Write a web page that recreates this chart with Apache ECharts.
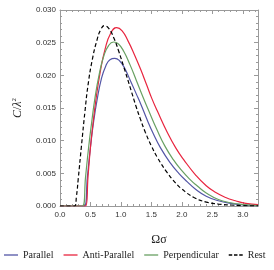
<!DOCTYPE html>
<html>
<head>
<meta charset="utf-8">
<script src="https://cdn.jsdelivr.net/npm/echarts@6/dist/echarts.min.js"></script>
<style>html,body{margin:0;padding:0;background:#fff}#c{width:274px;height:270px}</style>
</head>
<body>
<div id="c"></div>
<script>
const seriesNames = ['Parallel', 'Anti-Parallel', 'Perpendicular', 'Rest'];
const xTickLabels = ['0.0', '0.5', '1.0', '1.5', '2.0', '2.5', '3.0'];
const yTickLabels = ['0.000', '0.005', '0.010', '0.015', '0.020', '0.025', '0.030'];

const parallel = [[0,0],[0.40,0],[0.45,0.0045],[0.50,0.0090],[0.55,0.0128],[0.61,0.0163],[0.68,0.0195],[0.75,0.0214],[0.82,0.0224],[0.90,0.0226],[0.98,0.0222],[1.06,0.0211],[1.15,0.0193],[1.25,0.0172],[1.33,0.0155],[1.43,0.0132],[1.53,0.0111],[1.65,0.0089],[1.81,0.0066],[1.95,0.0050],[2.09,0.0037],[2.22,0.0026],[2.40,0.0015],[2.60,0.0008],[2.80,0.0004],[3.00,0.00018],[3.25,0.00006]];
const antiParallel = [[0,0],[0.42,0],[0.46,0.0045],[0.50,0.0090],[0.55,0.0133],[0.59,0.0163],[0.66,0.0205],[0.74,0.0240],[0.83,0.0264],[0.93,0.0273],[1.02,0.0268],[1.12,0.0252],[1.22,0.0232],[1.32,0.0210],[1.42,0.0186],[1.51,0.0164],[1.60,0.0145],[1.76,0.0113],[1.90,0.0089],[2.03,0.0071],[2.23,0.0047],[2.40,0.0031],[2.55,0.0021],[2.72,0.0013],[2.88,0.0008],[3.05,0.0004],[3.25,0.0002]];
const perpendicular = [[0,0],[0.37,0],[0.42,0.0045],[0.47,0.0090],[0.52,0.0128],[0.57,0.0163],[0.64,0.0200],[0.72,0.0230],[0.80,0.0246],[0.88,0.0251],[0.96,0.0248],[1.05,0.0236],[1.15,0.0216],[1.25,0.0193],[1.37,0.0165],[1.46,0.0145],[1.59,0.0117],[1.72,0.0092],[1.86,0.0071],[2.00,0.0054],[2.14,0.0040],[2.25,0.0031],[2.40,0.0020],[2.60,0.0010],[2.80,0.0005],[3.00,0.00022],[3.25,0.00008]];
const rest = [[0,0],[0.24,0],[0.27,0.0015],[0.30,0.0042],[0.35,0.0090],[0.41,0.0145],[0.46,0.0185],[0.53,0.0224],[0.61,0.0255],[0.67,0.0270],[0.73,0.0276],[0.80,0.0272],[0.88,0.0258],[0.96,0.0238],[1.05,0.0212],[1.15,0.0182],[1.25,0.0152],[1.32,0.0133],[1.40,0.0113],[1.50,0.0092],[1.60,0.0074],[1.76,0.0051],[1.90,0.0035],[2.00,0.0026],[2.20,0.0013],[2.40,0.0006],[2.60,0.0003],[2.80,0.00015],[3.00,0.00006],[3.25,0.00002]];

const colors = ['#5356a6', '#e8253f', '#68a062', '#000000'];
const frameColor = '#9a9a9a';

const chart = echarts.init(document.getElementById('c'), null, {renderer: 'canvas'});

function xAxisCfg(pos, labels) {
  return {
    type: 'value', position: pos, min: 0, max: 3.25, interval: 0.5,
    axisLine: {show: true, onZero: false, lineStyle: {color: frameColor, width: 1}},
    axisTick: {show: true, inside: true, length: 4, lineStyle: {color: frameColor}},
    minorTick: {show: true, splitNumber: 5, length: 2, lineStyle: {color: frameColor}},
    splitLine: {show: false},
    axisLabel: labels ? {show: true, showMaxLabel: false, margin: 5, color: '#333', fontSize: 8, fontFamily: 'Liberation Sans',
      formatter: v => { const i = Math.round(v / 0.5); return Math.abs(v - i * 0.5) < 1e-9 ? (xTickLabels[i] || '') : ''; }} : {show: false},
    name: labels ? 'Ωσ' : '', nameLocation: 'middle', nameGap: 28,
    nameTextStyle: {fontFamily: 'Liberation Serif', fontSize: 12, color: '#222'}
  };
}
function yAxisCfg(pos, labels) {
  return {
    type: 'value', position: pos, min: 0, max: 0.03, interval: 0.005,
    axisLine: {show: true, onZero: false, lineStyle: {color: frameColor, width: 1}},
    axisTick: {show: true, inside: true, length: 4, lineStyle: {color: frameColor}},
    minorTick: {show: true, splitNumber: 5, length: 2, lineStyle: {color: frameColor}},
    splitLine: {show: false},
    axisLabel: labels ? {show: true, margin: 4, color: '#333', fontSize: 8, fontFamily: 'Liberation Sans',
      formatter: v => { const i = Math.round(v / 0.005); return yTickLabels[i] || ''; }} : {show: false},
    name: labels ? '{i|C}/{i|λ}{s|2}' : '', nameLocation: 'middle', nameGap: 36, nameRotate: 90,
    nameTextStyle: {fontFamily: 'Liberation Serif', fontSize: 12, color: '#222',
      rich: {i: {fontStyle: 'italic', fontFamily: 'Liberation Serif', fontSize: 12}, s: {fontSize: 7, fontFamily: 'Liberation Serif', verticalAlign: 'top', padding: [0,0,6,0]}}}
  };
}

const dataSets = [parallel, antiParallel, perpendicular, rest];
const solidIcon = 'path://M0,0h14v1.3h-14z';
const dashIcon = 'path://M0,0h3.5v1.3h-3.5z M5.25,0h3.5v1.3h-3.5z M10.5,0h3.5v1.3h-3.5z';
chart.setOption({
  animation: false,
  grid: {left: 60, right: 16, top: 10, bottom: 64},
  legend: {
    top: 250, left: 4, padding: 0, itemWidth: 14, itemHeight: 1.3, itemGap: 10,
    textStyle: {fontFamily: 'Liberation Serif', fontSize: 10, color: '#222'},
    data: seriesNames.map((n, k) => ({name: n, icon: k === 3 ? dashIcon : solidIcon, itemStyle: {color: colors[k]}}))
  },
  xAxis: [xAxisCfg('bottom', true), xAxisCfg('top', false)],
  yAxis: [yAxisCfg('left', true), yAxisCfg('right', false)],
  series: seriesNames.map((n, k) => ({
    name: n, type: 'line', xAxisIndex: 0, yAxisIndex: 0, smooth: 0.5, symbol: 'none',
    data: dataSets[k], z: k === 3 ? 5 : 3,
    lineStyle: {color: colors[k], width: 1.2, type: k === 3 ? [4, 2.5] : 'solid'},
    itemStyle: {color: colors[k]}
  }))
});
</script>
</body>
</html>
